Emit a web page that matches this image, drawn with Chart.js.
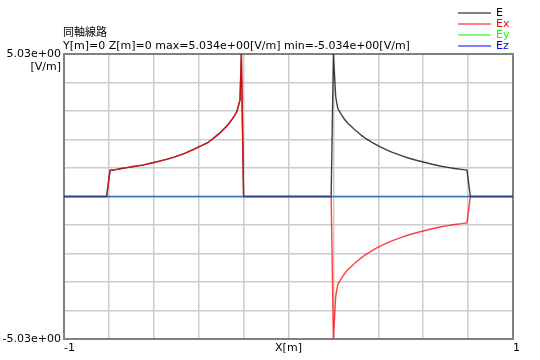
<!DOCTYPE html>
<html><head><meta charset="utf-8">
<script src="https://cdn.jsdelivr.net/npm/chart.js@4/dist/chart.umd.min.js"></script>
<style>html,body{margin:0;padding:0;background:#fff;overflow:hidden}</style>
</head><body><canvas id="c" width="540" height="360"></canvas>
<script>
const chartTitle = '同軸線路';
const chartSubtitle = 'Y[m]=0 Z[m]=0 max=5.034e+00[V/m] min=-5.034e+00[V/m]';
const xAxisTitle = 'X[m]';
const yUnit = '[V/m]';
const seriesNames = ['E', 'Ex', 'Ey', 'Ez'];
const xTickLabels = ['-1', '1'];
const yTickLabels = ['5.03e+00', '-5.03e+00'];
const yMax = 5.034, yMin = -5.034;

const xPos = [-1, -0.81, -0.795, -0.77, -0.75, -0.72, -0.69, -0.65, -0.60, -0.57, -0.54, -0.51, -0.48, -0.46, -0.44, -0.42, -0.40, -0.38, -0.36, -0.34, -0.32, -0.30, -0.28, -0.265, -0.25, -0.24, -0.23, -0.225, -0.216, -0.21, -0.20,
              0.19, 0.20, 0.21, 0.215, 0.22, 0.235, 0.25, 0.265, 0.28, 0.295, 0.31, 0.325, 0.34, 0.37, 0.40, 0.43, 0.46, 0.50, 0.53, 0.565, 0.60, 0.64, 0.68, 0.71, 0.74, 0.77, 0.795, 0.81, 1];
const E  = [0, 0, 0.92, 0.95, 0.98, 1.02, 1.06, 1.11, 1.20, 1.26, 1.32, 1.39, 1.47, 1.53, 1.60, 1.67, 1.75, 1.82, 1.90, 2.02, 2.15, 2.29, 2.45, 2.58, 2.74, 2.86, 3.00, 3.15, 3.40, 5.034, 0,
            0, 5.034, 3.55, 3.30, 3.10, 2.90, 2.72, 2.58, 2.47, 2.36, 2.26, 2.16, 2.07, 1.92, 1.79, 1.67, 1.57, 1.45, 1.37, 1.29, 1.22, 1.14, 1.07, 1.03, 0.99, 0.96, 0.93, 0, 0];
const Ex = [0, 0, 0.92, 0.95, 0.98, 1.02, 1.06, 1.11, 1.20, 1.26, 1.32, 1.39, 1.47, 1.53, 1.60, 1.67, 1.75, 1.82, 1.90, 2.02, 2.15, 2.29, 2.45, 2.58, 2.74, 2.86, 3.00, 3.15, 3.40, 5.034, 0,
            0, -5.034, -3.55, -3.30, -3.10, -2.90, -2.72, -2.58, -2.47, -2.36, -2.26, -2.16, -2.07, -1.92, -1.79, -1.67, -1.57, -1.45, -1.37, -1.29, -1.22, -1.14, -1.07, -1.03, -0.99, -0.96, -0.93, 0, 0];
const Ey = [0, 0, 0, 0, 0, 0, 0, 0, 0, 0, 0, 0, 0, 0, 0, 0, 0, 0, 0, 0, 0, 0, 0, 0, 0, 0, 0, 0, 0, 0, 0,
            0, 0, 0, 0, 0, 0, 0, 0, 0, 0, 0, 0, 0, 0, 0, 0, 0, 0, 0, 0, 0, 0, 0, 0, 0, 0, 0, 0, 0];
const Ez = [0, 0, 0, 0, 0, 0, 0, 0, 0, 0, 0, 0, 0, 0, 0, 0, 0, 0, 0, 0, 0, 0, 0, 0, 0, 0, 0, 0, 0, 0, 0,
            0, 0, 0, 0, 0, 0, 0, 0, 0, 0, 0, 0, 0, 0, 0, 0, 0, 0, 0, 0, 0, 0, 0, 0, 0, 0, 0, 0, 0];

const lineColors = ['rgba(0,0,0,0.75)', 'rgba(255,0,0,0.75)', 'rgba(0,255,0,0.5)', 'rgba(0,0,255,0.5)'];
const legendLineColors = ['#808080', '#ff8080', '#80ff80', '#8080ff'];
const legendTextColors = ['#000000', '#ff0000', '#00ff00', '#0000ff'];
const FONT = 'DejaVu Sans';

const series = [E, Ex, Ey, Ez];
const datasets = series.map((vals, i) => ({
  label: seriesNames[i],
  data: vals.map((v, k) => ({x: xPos[k], y: v})),
  borderColor: lineColors[i],
  borderWidth: 1.4,
  pointRadius: 0,
  tension: 0,
  fill: false,
  order: 3 - i
}));

const near = (a, b) => Math.abs(a - b) < 1e-6;

const decor = {
  id: 'decor',
  beforeDatasetsDraw(chart) {
    const {ctx, chartArea: a} = chart;
    ctx.save();
    ctx.strokeStyle = '#808080';
    ctx.lineWidth = 2;
    ctx.strokeRect(a.left, a.top, a.right - a.left, a.bottom - a.top);
    ctx.restore();
  },
  afterDraw(chart) {
    const {ctx, chartArea: a} = chart;
    ctx.save();
    ctx.fillStyle = '#000';
    ctx.textBaseline = 'middle';
    ctx.textAlign = 'left';
    ctx.font = '11px "Noto Sans CJK JP"';
    ctx.fillText(chartTitle, 63, 32);
    ctx.font = '11px "' + FONT + '"';
    ctx.fillText(chartSubtitle, 63, 46);
    ctx.textAlign = 'right';
    ctx.fillText(yUnit, a.left - 3, 67);
    ctx.textAlign = 'center';
    ctx.fillText(xAxisTitle, (a.left + a.right) / 2, 348);
    ctx.textAlign = 'left';
    for (let i = 0; i < seriesNames.length; i++) {
      const y = 13 + i * 11;
      ctx.strokeStyle = legendLineColors[i];
      ctx.lineWidth = 2;
      ctx.beginPath(); ctx.moveTo(458, y); ctx.lineTo(491, y); ctx.stroke();
      ctx.fillStyle = legendTextColors[i];
      ctx.fillText(seriesNames[i], 496, y);
    }
    ctx.restore();
  }
};

new Chart(document.getElementById('c'), {
  type: 'line',
  data: {datasets},
  plugins: [decor],
  options: {
    responsive: false, animation: false, devicePixelRatio: 1,
    layout: {padding: {top: 54, right: 27, left: 0, bottom: 0}},
    plugins: {legend: {display: false}, tooltip: {enabled: false}},
    scales: {
      x: {
        type: 'linear', min: -1, max: 1,
        grid: {color: '#cccccc', lineWidth: 1.5, drawTicks: false},
        border: {display: false},
        ticks: {
          stepSize: 0.2, autoSkip: false, maxRotation: 0, minRotation: 0, align: 'start', padding: 3,
          color: '#000', font: {family: FONT, size: 11},
          callback: v => near(v, -1) ? xTickLabels[0] : (near(v, 1) ? xTickLabels[1] : '')
        },
        afterFit: s => { s.height = 21; }
      },
      y: {
        type: 'linear', min: yMin, max: yMax,
        grid: {color: '#cccccc', lineWidth: 1.5, drawTicks: false},
        border: {display: false},
        ticks: {
          stepSize: (yMax - yMin) / 10, autoSkip: false, padding: 3,
          color: '#000', font: {family: FONT, size: 11},
          callback: v => near(v, yMax) ? yTickLabels[0] : (near(v, yMin) ? yTickLabels[1] : '')
        },
        afterFit: s => { s.width = 64; }
      }
    }
  }
});
</script></body></html>
